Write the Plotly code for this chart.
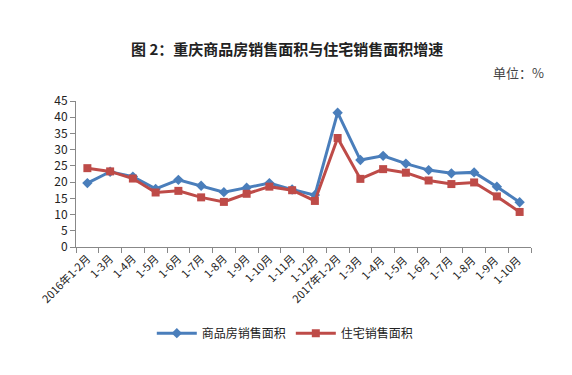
import plotly.graph_objects as go

categories = ["2016年1-2月", "1-3月", "1-4月", "1-5月", "1-6月", "1-7月", "1-8月", "1-9月", "1-10月", "1-11月", "1-12月",
              "2017年1-2月", "1-3月 ", "1-4月 ", "1-5月 ", "1-6月 ", "1-7月 ", "1-8月 ", "1-9月 ", "1-10月 "]
commercial = [19.7, 23.2, 21.7, 17.9, 20.7, 18.9, 16.9, 18.3, 19.7, 17.7, 16.0,
              41.4, 26.8, 28.1, 25.7, 23.7, 22.7, 23.0, 18.6, 13.8]
residential = [24.3, 23.3, 21.1, 16.8, 17.3, 15.3, 13.9, 16.4, 18.6, 17.5, 14.2,
               33.6, 21.0, 24.0, 22.9, 20.5, 19.4, 19.9, 15.6, 10.8]
y_ticks = [0, 5, 10, 15, 20, 25, 30, 35, 40, 45]

font_cjk = "Noto Sans CJK SC"

fig = go.Figure()
fig.add_trace(go.Scatter(
    x=categories, y=commercial, name="商品房销售面积", mode="lines+markers",
    line=dict(color="#4A7EBB", width=3),
    marker=dict(symbol="diamond", size=8, color="#4A7EBB"),
))
fig.add_trace(go.Scatter(
    x=categories, y=residential, name="住宅销售面积", mode="lines+markers",
    line=dict(color="#BE4B48", width=3),
    marker=dict(symbol="square", size=8, color="#BE4B48"),
))

fig.update_layout(
    width=572, height=375,
    margin=dict(l=76, r=41, t=101, b=128),
    paper_bgcolor="white", plot_bgcolor="white",
    font=dict(family=font_cjk, color="#333333", size=12),
    showlegend=True,
    legend=dict(orientation="h", x=0.46, xanchor="center", y=-0.59, yanchor="middle",
                font=dict(size=12, color="#222222"), itemwidth=40),
    xaxis=dict(
        type="category", range=[-0.5, 19.5], tickangle=-45,
        showline=True, linecolor="#888888", linewidth=1,
        ticks="outside", ticklen=5, tickcolor="#888888", tickson="boundaries",
        showgrid=False, tickfont=dict(size=11, color="#222222"),
    ),
    yaxis=dict(
        range=[0, 45], tickvals=y_ticks,
        showline=True, linecolor="#888888", linewidth=1,
        ticks="outside", ticklen=5, tickcolor="#888888",
        showgrid=False, zeroline=False, tickfont=dict(size=12, color="#222222"),
    ),
    annotations=[
        dict(text="<b>图 2：重庆商品房销售面积与住宅销售面积增速</b>", xref="paper", yref="paper",
             x=(287 - 76) / 455, y=1 + (101 - 48) / 146, xanchor="center", yanchor="middle",
             showarrow=False, font=dict(size=15, color="#222222", family=font_cjk)),
        dict(text="单位：%", xref="paper", yref="paper",
             x=(546 - 76) / 455, y=1 + (101 - 72) / 146, xanchor="right", yanchor="middle",
             showarrow=False, font=dict(size=13, color="#444444", family=font_cjk)),
    ],
)

fig.write_html("out.html")
